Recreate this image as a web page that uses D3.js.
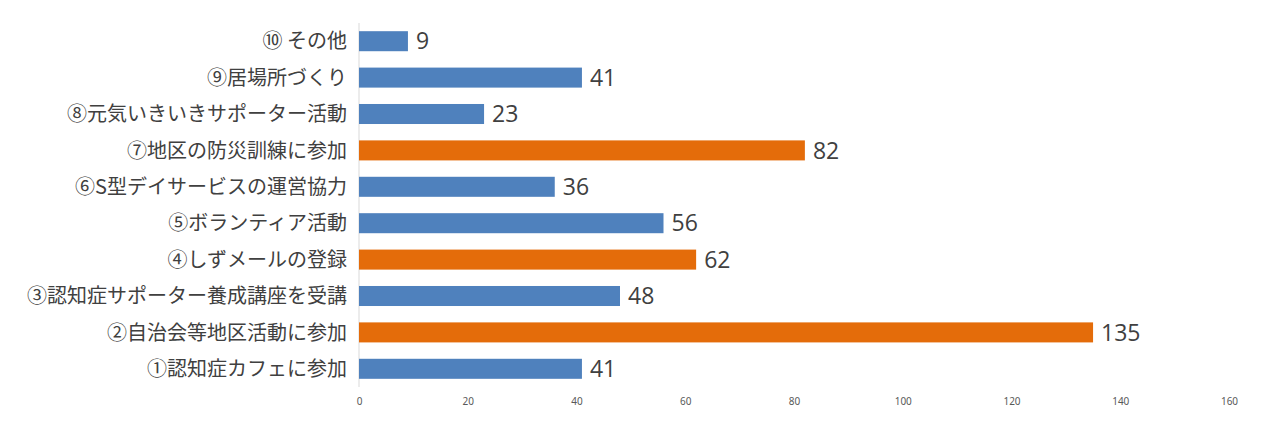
<!DOCTYPE html>
<html><head><meta charset="utf-8">
<script src="https://cdn.jsdelivr.net/npm/d3@7"></script>
<style>body{margin:0;background:#fff;}svg{display:block;}</style>
</head><body>
<script>
const categories = ["①認知症カフェに参加","②自治会等地区活動に参加","③認知症サポーター養成講座を受講","④しずメールの登録","⑤ボランティア活動","⑥S型デイサービスの運営協力","⑦地区の防災訓練に参加","⑧元気いきいきサポーター活動","⑨居場所づくり","⑩ その他"];
const values = [41,135,48,62,56,36,82,23,41,9];
const highlighted = [false,true,false,true,false,false,true,false,false,false];
const tickValues = [0,20,40,60,80,100,120,140,160];

const W=1274,H=430;
const svg=d3.select("body").append("svg").attr("width",W).attr("height",H);
const x=d3.scaleLinear().domain([0,160]).range([359,1229]);
const y=d3.scaleBand().domain(categories.slice().reverse()).range([23,387]).paddingInner(0.45).paddingOuter(0.225);

svg.append("line").attr("x1",x(0)).attr("x2",x(0)).attr("y1",23).attr("y2",387).attr("stroke","#d9d9d9");

const data=categories.map((c,i)=>({c,v:values[i],h:highlighted[i]}));
svg.selectAll("rect.bar").data(data).join("rect").attr("class","bar")
 .attr("x",x(0)).attr("y",d=>y(d.c)).attr("width",d=>x(d.v)-x(0)).attr("height",y.bandwidth())
 .attr("fill",d=>d.h?"#e46c0a":"#4f81bd");

svg.selectAll("text.val").data(data).join("text").attr("class","val")
 .attr("x",d=>x(d.v)+8).attr("y",d=>y(d.c)+y.bandwidth()/2).attr("dy","0.36em")
 .attr("font-family","'Open Sans','Noto Sans',sans-serif").attr("font-size",23).attr("fill","#404040")
 .text(d=>d.v);

svg.selectAll("text.cat").data(data).join("text").attr("class","cat")
 .attr("x",347).attr("y",d=>y(d.c)+y.bandwidth()/2).attr("dy","0.36em").attr("text-anchor","end")
 .attr("font-family","'Noto Sans CJK JP',sans-serif").attr("font-size",20).attr("fill","#404040")
 .text(d=>d.c);

const ax=svg.append("g").attr("transform","translate(0,388)")
 .call(d3.axisBottom(x).tickValues(tickValues).tickSize(0).tickPadding(10));
ax.select(".domain").remove();
ax.selectAll("text").attr("font-family","'Liberation Sans Narrow','Noto Sans',sans-serif").attr("font-size",10).attr("fill","#595959");
</script>
</body></html>
